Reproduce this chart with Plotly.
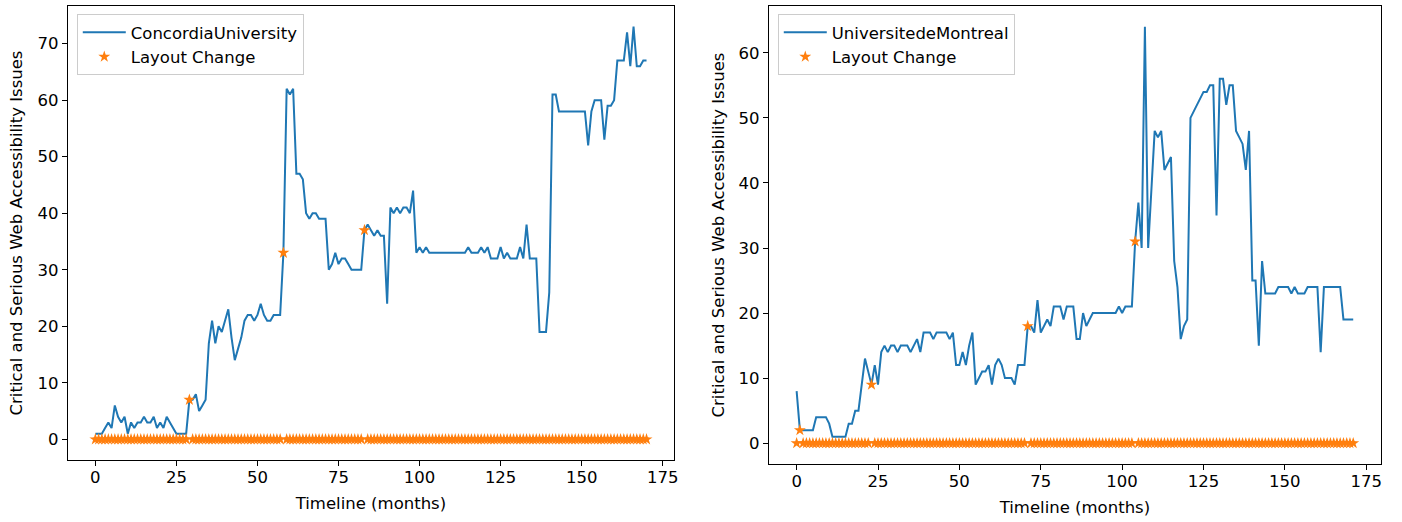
import plotly.graph_objects as go

# Monthly counts of critical + serious accessibility issues per university site
months_concordia = list(range(171))
issues_concordia = [
    1, 1, 1, 2, 3, 2, 6, 4, 3, 4,
    1, 3, 2, 3, 3, 4, 3, 3, 4, 2,
    3, 2, 4, 3, 2, 1, 1, 1, 1, 7,
    7, 8, 5, 6, 7, 17, 21, 17, 20, 19,
    21, 23, 18, 14, 16, 18, 21, 22, 22, 21,
    22, 24, 22, 21, 21, 22, 22, 22, 33, 62,
    61, 62, 47, 47, 46, 40, 39, 40, 40, 39,
    39, 39, 30, 31, 33, 31, 32, 32, 31, 30,
    30, 30, 30, 37, 38, 37, 36, 37, 36, 36,
    24, 41, 40, 41, 40, 41, 41, 40, 44, 33,
    34, 33, 34, 33, 33, 33, 33, 33, 33, 33,
    33, 33, 33, 33, 33, 34, 33, 33, 33, 34,
    33, 34, 32, 32, 32, 34, 32, 33, 32, 32,
    32, 34, 32, 38, 32, 32, 32, 19, 19, 19,
    26, 61, 61, 58, 58, 58, 58, 58, 58, 58,
    58, 58, 52, 58, 60, 60, 60, 53, 59, 59,
    60, 67, 67, 67, 72, 66, 73, 66, 66, 67, 67,
]
layout_changes_concordia = [29, 58, 83]

months_montreal = list(range(172))
issues_montreal = [
    8, 2, 2, 2, 2, 2, 4, 4, 4, 4,
    3, 1, 1, 1, 1, 1, 3, 3, 5, 5,
    9, 13, 11, 9, 12, 9, 14, 15, 14, 15,
    15, 14, 15, 15, 15, 14, 15, 16, 14, 17,
    17, 17, 16, 17, 17, 17, 17, 16, 17, 12,
    12, 14, 12, 15, 17, 9, 10, 11, 11, 12,
    9, 12, 13, 12, 10, 10, 10, 9, 12, 12,
    12, 18, 18, 17, 22, 17, 18, 19, 18, 21,
    21, 21, 19, 21, 21, 21, 16, 16, 20, 18,
    19, 20, 20, 20, 20, 20, 20, 20, 20, 21,
    20, 21, 21, 21, 31, 37, 30, 64, 30, 40,
    48, 47, 48, 42, 43, 44, 28, 24, 16, 18,
    19, 50, 51, 52, 53, 54, 54, 55, 55, 35,
    56, 56, 52, 55, 55, 48, 47, 46, 42, 48,
    25, 25, 15, 28, 23, 23, 23, 23, 24, 24,
    24, 24, 23, 24, 23, 23, 23, 24, 24, 24,
    24, 14, 24, 24, 24, 24, 24, 24, 19, 19, 19, 19,
]
layout_changes_montreal = [1, 23, 71, 104]

x_ticks = [0, 25, 50, 75, 100, 125, 150, 175]
y_ticks_concordia = [0, 10, 20, 30, 40, 50, 60, 70]
y_ticks_montreal = [0, 10, 20, 30, 40, 50, 60]

BLUE = "#1f77b4"
ORANGE = "#ff7f0e"
FONT = "DejaVu Sans"
FS = 16.5
W, H = 1402, 522


def change_markers(months, issues, changes):
    # star at the issue count in a layout-change month, on the baseline otherwise
    return [issues[m] if m in changes else 0 for m in months]


fig = go.Figure()

panels = [
    ("ConcordiaUniversity", months_concordia, issues_concordia,
     layout_changes_concordia, "x", "y", "legend"),
    ("UniversitedeMontreal", months_montreal, issues_montreal,
     layout_changes_montreal, "x2", "y2", "legend2"),
]

for name, months, issues, changes, xa, ya, lg in panels:
    fig.add_trace(go.Scatter(
        x=months, y=issues, mode="lines", name=name,
        line=dict(color=BLUE, width=2),
        xaxis=xa, yaxis=ya, legend=lg, legendgroup=name + "_line",
    ))
    fig.add_trace(go.Scatter(
        x=months, y=change_markers(months, issues, changes),
        mode="markers", name="Layout Change",
        marker=dict(symbol="star", size=9, color=ORANGE, line=dict(width=0)),
        xaxis=xa, yaxis=ya, legend=lg, legendgroup=name + "_marks",
    ))


def px_x(p):
    return p / W


def px_y(p):
    return 1 - p / H


axis_common = dict(
    showgrid=False, zeroline=False, showline=True, mirror=True,
    linecolor="black", linewidth=1, ticks="outside", ticklen=5,
    tickwidth=1, tickcolor="black",
    tickfont=dict(family=FONT, size=FS, color="black"),
    title_font=dict(family=FONT, size=FS, color="black"),
)

legend_common = dict(
    xanchor="left", yanchor="top",
    bgcolor="rgba(255,255,255,0.8)", bordercolor="#cccccc",
    borderwidth=1, font=dict(family=FONT, size=FS),
    tracegroupgap=0, itemwidth=43,
)

fig.update_layout(
    width=W, height=H,
    margin=dict(l=0, r=0, t=0, b=0),
    paper_bgcolor="white", plot_bgcolor="white",
    font=dict(family=FONT, size=FS, color="black"),
    xaxis=dict(domain=[px_x(68), px_x(676)], range=[-8.5, 178.5],
               tickvals=x_ticks, anchor="y", ticklabelstandoff=-3,
               title=dict(text="Timeline (months)", standoff=11),
               **axis_common),
    yaxis=dict(domain=[px_y(460), px_y(6)], range=[-3.65, 76.65],
               tickvals=y_ticks_concordia, anchor="x",
               title=dict(text="Critical and Serious Web Accessibility Issues",
                          standoff=10),
               **axis_common),
    xaxis2=dict(domain=[px_x(771), px_x(1385)], range=[-8.55, 179.55],
                tickvals=x_ticks, anchor="y2", ticklabelstandoff=-3,
                title=dict(text="Timeline (months)", standoff=11),
                **axis_common),
    yaxis2=dict(domain=[px_y(464), px_y(6)], range=[-3.2, 67.2],
                tickvals=y_ticks_montreal, anchor="x2",
                title=dict(text="Critical and Serious Web Accessibility Issues",
                           standoff=9),
                **axis_common),
    legend=dict(x=px_x(77), y=px_y(14), **legend_common),
    legend2=dict(x=px_x(780), y=px_y(14), **legend_common),
)

fig.write_html("out.html")
